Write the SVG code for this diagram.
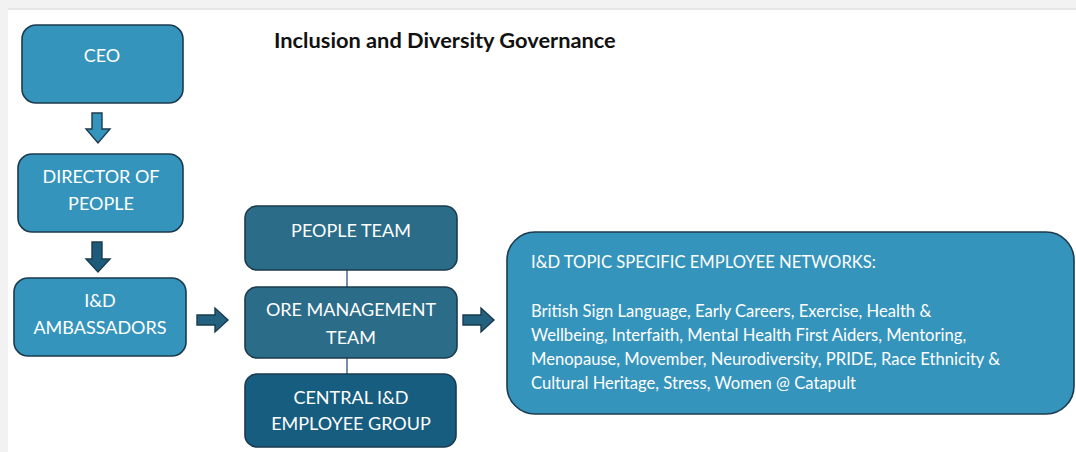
<svg xmlns="http://www.w3.org/2000/svg" width="1076" height="452" viewBox="0 0 1076 452">
  <style>
    .box { stroke: #1b3b4e; stroke-width: 1.6; }
    .light { fill: #3594bc; }
    .mid { fill: #2b6c89; }
    .deep { fill: #175d80; }
    .lbl { font-family: Lato, "Open Sans", sans-serif; font-size: 18px; fill: #ffffff; text-anchor: middle; }
    .body { font-family: Lato, "Open Sans", sans-serif; font-size: 16.6px; fill: #ffffff; }
    .title { font-family: Lato, "Liberation Sans", sans-serif; font-size: 21.8px; font-weight: bold; fill: #111111; }
    .arrow { stroke: #1b3b4e; stroke-width: 1.4; stroke-linejoin: miter; }
    .link { stroke: #23407a; stroke-width: 1.2; fill: none; }
  </style>

  <!-- page frame -->
  <rect x="0" y="0" width="1076" height="452" fill="#ffffff"/>
  <rect x="0" y="0" width="1076" height="8" fill="#f2f2f2"/>
  <rect x="0" y="8" width="1076" height="2" fill="#e6e6e6"/>
  <rect x="0" y="0" width="8" height="452" fill="#f2f2f2"/>

  <text class="title" x="274" y="48">Inclusion and Diversity Governance</text>

  <!-- connectors -->
  <g id="connectors">
    <polygon class="arrow" fill="#3594bc" points="92,113 102,113 102,129 110,129 98,143 86,129 92,129"/>
    <polygon class="arrow" fill="#1e5a79" points="92,242 102,242 102,259 110,259 98,272 86,259 92,259"/>
    <polygon class="arrow" fill="#23627f" points="197,315 215,315 215,308 228,320 215,332 215,325 197,325"/>
    <polygon class="arrow" fill="#23627f" points="463,315 481,315 481,308 494,320 481,332 481,325 463,325"/>
    <line class="link" x1="347" y1="270" x2="347" y2="287"/>
    <line class="link" x1="347" y1="358" x2="347" y2="374"/>
  </g>

  <g id="ceo">
    <rect class="box light" x="22" y="25" width="161" height="78" rx="14"/>
    <text class="lbl" x="102" y="62">CEO</text>
  </g>

  <g id="director-of-people">
    <rect class="box light" x="18" y="154" width="165" height="78" rx="14"/>
    <text class="lbl" x="101" y="183">DIRECTOR OF</text>
    <text class="lbl" x="101" y="210">PEOPLE</text>
  </g>

  <g id="ambassadors">
    <rect class="box light" x="14" y="278" width="172" height="78" rx="14"/>
    <text class="lbl" x="100" y="307">I&amp;D</text>
    <text class="lbl" x="100" y="334">AMBASSADORS</text>
  </g>

  <g id="people-team">
    <rect class="box mid" x="245" y="206" width="212" height="64" rx="12"/>
    <text class="lbl" x="351" y="237">PEOPLE TEAM</text>
  </g>

  <g id="ore-management-team">
    <rect class="box mid" x="245" y="287" width="212" height="71" rx="12"/>
    <text class="lbl" x="351" y="316">ORE MANAGEMENT</text>
    <text class="lbl" x="351" y="344">TEAM</text>
  </g>

  <g id="central-group">
    <rect class="box deep" x="245" y="374" width="211" height="73" rx="12"/>
    <text class="lbl" x="351" y="404">CENTRAL I&amp;D</text>
    <text class="lbl" x="351" y="430">EMPLOYEE GROUP</text>
  </g>

  <g id="employee-networks">
    <rect class="box light" x="507" y="232" width="567" height="182" rx="28"/>
    <text class="body" x="531" y="268">I&amp;D TOPIC SPECIFIC EMPLOYEE NETWORKS:</text>
    <text class="body" x="531" y="317">British Sign Language, Early Careers, Exercise, Health &amp;</text>
    <text class="body" x="531" y="341">Wellbeing, Interfaith, Mental Health First Aiders, Mentoring,</text>
    <text class="body" x="531" y="365">Menopause, Movember, Neurodiversity, PRIDE, Race Ethnicity &amp;</text>
    <text class="body" x="531" y="389">Cultural Heritage, Stress, Women @ Catapult</text>
  </g>
</svg>
